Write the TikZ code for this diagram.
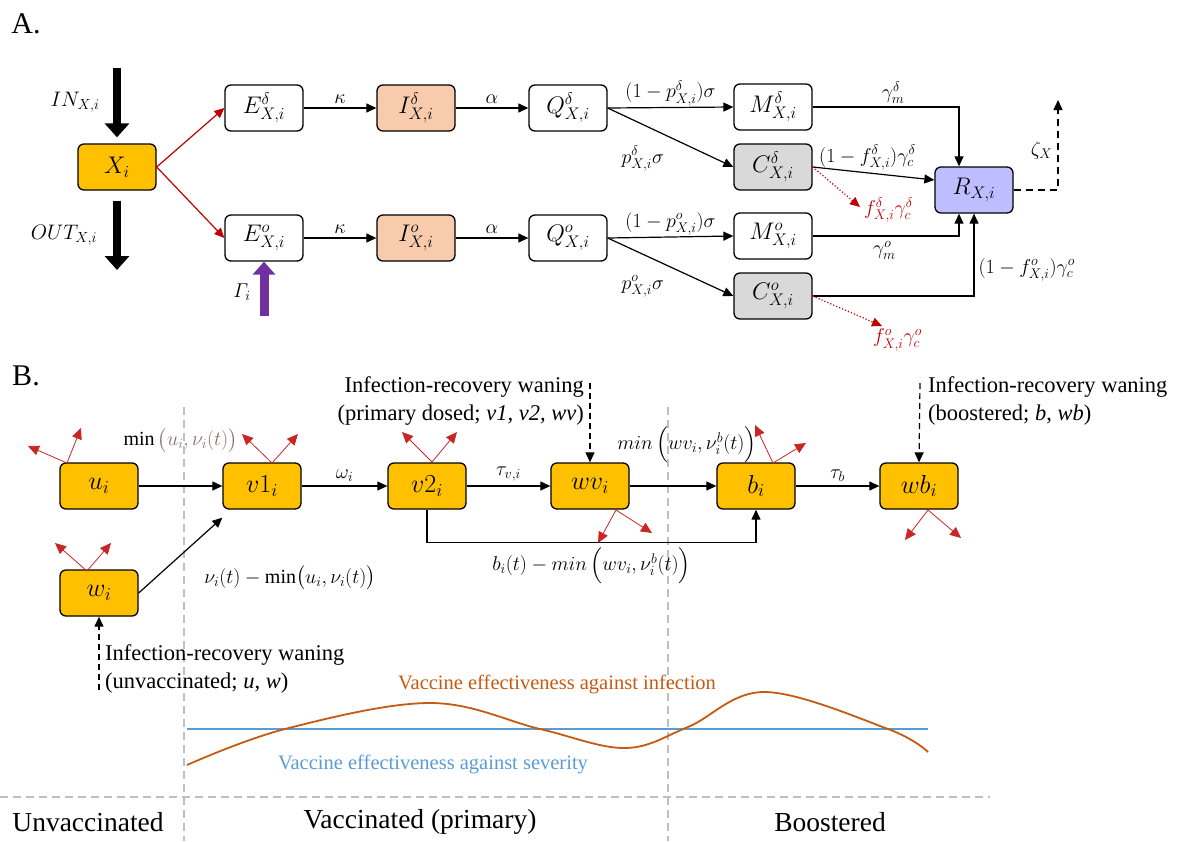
\RequirePackage{fix-cm}
\documentclass[tikz,border=0pt]{standalone}
\usepackage{amsmath,amssymb}
\usepackage{fontspec}
\setmainfont{Liberation Serif}
\usepackage{xcolor}
\usepackage{tikz}
\usetikzlibrary{calc,arrows.meta}
\definecolor{gold}{HTML}{FFC000}
\definecolor{peach}{HTML}{F8CBAD}
\definecolor{greybox}{HTML}{D9D9D9}
\definecolor{lav}{HTML}{BDBDFF}
\definecolor{darkred}{HTML}{C00000}
\definecolor{purp}{HTML}{7030A0}
\definecolor{sepgrey}{HTML}{BFBFBF}
\definecolor{veblue}{HTML}{5B9BD5}
\definecolor{veorange}{HTML}{C55A11}
\definecolor{minc}{HTML}{8B6F6F}
\tikzset{
  box/.style={draw=black, line width=1.3pt, rounded corners=6pt, minimum width=78pt, minimum height=46pt, inner sep=0pt, font=\fontsize{24}{28}\selectfont},
  vbox/.style={box, fill=gold, font=\fontsize{26}{30}\selectfont},
  flow/.style={draw=black, line width=1.2pt, -{Triangle[length=10pt,width=9pt]}},
  inf/.style={draw=darkred, line width=1.2pt, -{Triangle[length=10pt,width=9pt]}},
  loss/.style={draw=darkred, line width=1.2pt, dotted, -{Triangle[length=10pt,width=9pt]}},
  die/.style={draw=darkred!85, line width=0.8pt, -{Triangle[length=11pt,width=10pt]}},
  big/.style={draw=black, line width=8pt, -{Triangle[length=14pt,width=24pt]}},
  bigp/.style={draw=purp, line width=9pt, -{Triangle[length=13pt,width=22pt]}},
  wane/.style={draw=black, line width=1.2pt, dash pattern=on 6pt off 4pt, -{Triangle[length=10pt,width=9pt]}},
  outd/.style={draw=black, line width=1.4pt, dash pattern=on 7pt off 5pt, -{Triangle[length=10pt,width=9pt]}},
  sep/.style={draw=sepgrey, line width=2pt, dash pattern=on 8pt off 5pt},
  elab/.style={font=\fontsize{20}{24}\selectfont, inner sep=1pt},
  rlab/.style={font=\fontsize{20}{24}\selectfont, inner sep=1pt, text=darkred},
  note/.style={font=\fontsize{22.5}{28}\selectfont, inner sep=0pt},
  era/.style={font=\fontsize{27.5}{32}\selectfont, inner sep=0pt},
  panel/.style={font=\fontsize{30}{34}\selectfont, inner sep=0pt},
  ve/.style={font=\fontsize{20.5}{24}\selectfont, inner sep=0pt},
}
\begin{document}
\begin{tikzpicture}[x=1pt,y=-1pt]
  \useasboundingbox (0,0) rectangle (1178,841);

  % ---- A. transmission model
  \node[panel] (pA) at (26,24) {A.};
  \node[box,fill=gold] (X) at (117,167) {$X_i$};
  \node[box] (Ed) at (264,108) {$E^{\delta}_{X,i}$};
  \node[box] (Eo) at (264,238) {$E^{o}_{X,i}$};
  \node[box,fill=peach] (Id) at (416,108) {$I^{\delta}_{X,i}$};
  \node[box,fill=peach] (Io) at (416,238) {$I^{o}_{X,i}$};
  \node[box] (Qd) at (568,108) {$Q^{\delta}_{X,i}$};
  \node[box] (Qo) at (568,238) {$Q^{o}_{X,i}$};
  \node[box] (Md) at (773,107) {$M^{\delta}_{X,i}$};
  \node[box,fill=greybox] (Cd) at (773,167) {$C^{\delta}_{X,i}$};
  \node[box] (Mo) at (773,236) {$M^{o}_{X,i}$};
  \node[box,fill=greybox] (Co) at (773,296) {$C^{o}_{X,i}$};
  \node[box,fill=lav] (R) at (974,190) {$R_{X,i}$};

  \coordinate (inTop) at (117,68);
  \coordinate (outEnd) at (117,270);
  \coordinate (gamSrc) at (264,316);
  \draw[big, shorten >=6pt] (inTop) -- (X.north);
  \draw[big, shorten <=10pt] (X.south) -- (outEnd);
  \node[elab, font=\fontsize{21}{24}\selectfont] (inlab) at (75,102) {$IN_{X,i}$};
  \node[elab, font=\fontsize{21}{24}\selectfont] (outlab) at (64,235) {$OUT_{X,i}$};
  \draw[bigp] (gamSrc) -- (Eo.south);
  \node[elab] (gamlab) at (242,292) {$\varGamma_i$};

  \draw[inf] (X.east) -- (Ed.west);
  \draw[inf] (X.east) -- (Eo.west);
  \draw[flow] (Ed) -- node[elab, above=3pt] {$\kappa$} (Id);
  \draw[flow] (Eo) -- node[elab, above=3pt] {$\kappa$} (Io);
  \draw[flow] (Id) -- node[elab, above=3pt] {$\alpha$} (Qd);
  \draw[flow] (Io) -- node[elab, above=3pt] {$\alpha$} (Qo);
  \draw[flow] (Qd.east) -- node[elab, above=0pt] {$(1-p^{\delta}_{X,i})\sigma$} (Md.west);
  \draw[flow] (Qo.east) -- node[elab, above=0pt] {$(1-p^{o}_{X,i})\sigma$} (Mo.west);
  \draw[flow] (Qd.east) -- node[elab, pos=0.28, below=20pt] {$p^{\delta}_{X,i}\sigma$} (Cd.west);
  \draw[flow] (Qo.east) -- node[elab, pos=0.28, below=20pt] {$p^{o}_{X,i}\sigma$} (Co.west);

  \draw[flow] (Md.east) -| node[elab, pos=0.275, above=2pt] {$\gamma^{\delta}_{m}$} ([xshift=-15pt]R.north);
  \draw[flow] (Cd.east) -- node[elab, pos=0.45, above=1pt] {$(1-f^{\delta}_{X,i})\gamma^{\delta}_{c}$} ([yshift=10pt]R.west);
  \draw[flow] (Mo.east) -| node[elab, pos=0.245, below=4pt] {$\gamma^{o}_{m}$} ([xshift=-15pt]R.south);
  \draw[flow] (Co.east) -| node[elab, pos=0.66, right=3pt] {$(1-f^{o}_{X,i})\gamma^{o}_{c}$} (R.south);

  \coordinate (fd) at (860,207);
  \coordinate (fo) at (882,326);
  \draw[loss] (Cd.east) -- (fd);
  \draw[loss] (Co.east) -- (fo);
  \node[rlab, anchor=west] (fdlab) at (863,210) {$f^{\delta}_{X,i}\gamma^{\delta}_{c}$};
  \node[rlab, anchor=west] (folab) at (872,340) {$f^{o}_{X,i}\gamma^{o}_{c}$};

  \coordinate (zetaEnd) at (1058,100);
  \draw[outd] (R.east) -| node[elab, pos=0.72, left=4pt] {$\zeta_X$} (zetaEnd);

  % ---- B. vaccination strata
  \node[panel] (pB) at (26,376) {B.};
  \draw[sep] (184,407) -- (184,841);
  \draw[sep] (668,407) -- (668,841);
  \draw[sep] (0,797) -- (990,797);

  \node[vbox] (u) at (99,486) {$u_i$};
  \node[vbox] (v1) at (262,486) {$v1_i$};
  \node[vbox] (v2) at (427,486) {$v2_i$};
  \node[vbox] (wv) at (590,486) {$wv_i$};
  \node[vbox] (b) at (756,486) {$b_i$};
  \node[vbox] (wb) at (919,486) {$wb_i$};
  \node[vbox] (w) at (99,593) {$w_i$};

  \draw[flow] (u) -- node[elab, above=32pt] {$\min\textcolor{minc}{\big(u_i,\nu_i(t)\big)}$} (v1);
  \draw[flow] (w.east) -- ([yshift=-8pt]v1.south west);
  \node[elab] (wlab) at (290,578) {$\nu_i(t)-\min\!\big(u_i,\nu_i(t)\big)$};
  \draw[flow] (v1) -- node[elab, above=3pt] {$\omega_i$} (v2);
  \draw[flow] (v2) -- node[elab, above=3pt] {$\tau_{v,i}$} (wv);
  \draw[flow] (wv) -- node[elab, pos=0.66, above=22pt] {$min\,\Big(wv_i,\nu^b_i(t)\Big)$} (b);
  \draw[flow] (b) -- node[elab, above=3pt] {$\tau_b$} (wb);
  \draw[flow] (v2.south) -- ++(0,33) -| node[elab, pos=0.25, below=3pt] {$b_i(t)-min\,\Big(wv_i,\nu^b_i(t)\Big)$} (b.south);

  \coordinate (wvIn) at (590,383);
  \coordinate (wbIn) at (920,383);
  \coordinate (wIn) at (99,690);
  \draw[wane] (wvIn) -- (wv.north);
  \draw[wane] (wbIn) -- (wb.north);
  \draw[wane] (wIn) -- (w.south);
  \node[note, anchor=north east, align=right] (wvtxt) at (584,376) {Infection-recovery waning\\(primary dosed; \textit{v1, v2, wv})};
  \node[note, anchor=north west, align=left] (wbtxt) at (928,376) {Infection-recovery waning\\(boostered; \textit{b}, \textit{wb})};
  \node[note, anchor=north west, align=left] (wtxt) at (105,644) {Infection-recovery waning\\(unvaccinated; \textit{u}, \textit{w})};

  % deaths / exits
  \draw[die] (67,463) -- (28,446);  \draw[die] (67,463) -- (81,428);
  \draw[die] (272,463) -- (242,434); \draw[die] (272,463) -- (298,434);
  \draw[die] (87,571) -- (55,543);  \draw[die] (87,571) -- (111,543);
  \draw[die] (432,462) -- (402,432); \draw[die] (432,462) -- (457,432);
  \draw[die] (616,510) -- (598,543); \draw[die] (616,510) -- (652,533);
  \draw[die] (773,463) -- (755,425); \draw[die] (773,463) -- (806,443);
  \draw[die] (928,510) -- (905,540); \draw[die] (928,510) -- (961,538);

  % effectiveness curves
  \draw[veblue, line width=1.5pt] (187,729) -- (928,729);
  \draw[veorange, line width=1.8pt] plot[smooth, tension=0.6] coordinates {(187,765) (285,729) (430,703) (540,729) (625,748) (688,727) (765,692) (888,729) (928,752)};
  \node[ve, text=veorange] (vei) at (557,684) {Vaccine effectiveness against infection};
  \node[ve, text=veblue] (ves) at (433,764) {Vaccine effectiveness against severity};

  \node[era] (e1) at (88,822) {Unvaccinated};
  \node[era] (e2) at (420,822) {Vaccinated (primary)};
  \node[era] (e3) at (830,822) {Boostered};
\end{tikzpicture}
\end{document}
